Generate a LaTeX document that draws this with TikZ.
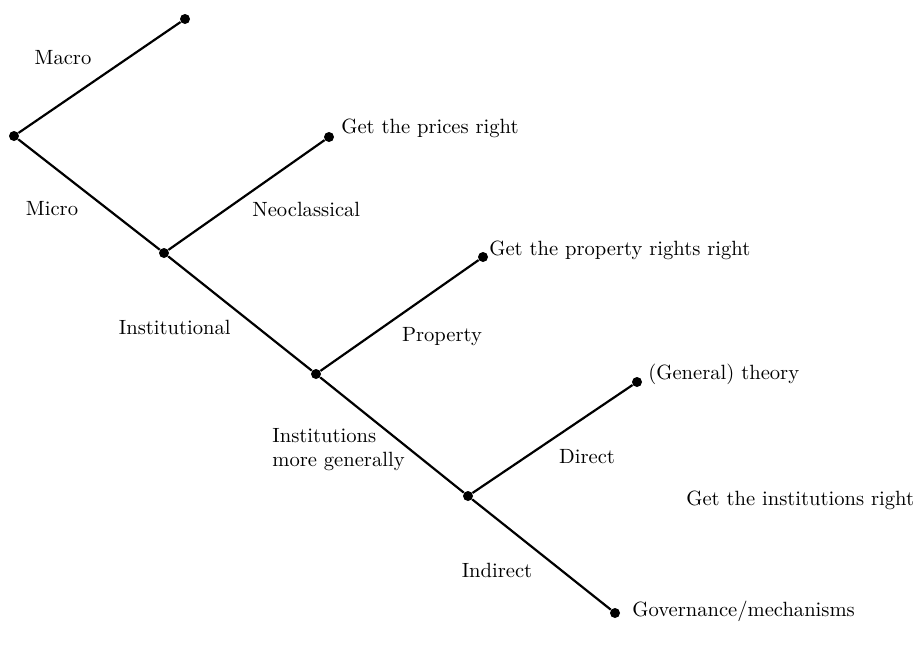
\documentclass[tikz,border=0pt]{standalone}
\usepackage{tikz}
\usetikzlibrary{positioning}

\begin{document}
\begin{tikzpicture}[x=0.5pt, y=-0.5pt,
    dot/.style={circle, fill=black, inner sep=0pt, minimum size=5pt},
    branch/.style={line width=1.1pt},
    lbl/.style={inner sep=0pt, font=\fontsize{10.3}{12}\selectfont}
  ]
  \useasboundingbox (0,0) rectangle (916,644);

  % Dots
  \node[dot] (root) at (14,136) {};
  \node[dot] (macro) at (185,19) {};
  \node[dot] (micro) at (164,253) {};
  \node[dot] (prices) at (329,137) {};
  \node[dot] (inst) at (316,374) {};
  \node[dot] (property) at (483,257) {};
  \node[dot] (general) at (468,496) {};
  \node[dot] (theory) at (637,382) {};
  \node[dot] (governance) at (615,613) {};

  % Branches
  \draw[branch] (root) -- (macro);
  \draw[branch] (root) -- (micro);
  \draw[branch] (micro) -- (prices);
  \draw[branch] (micro) -- (inst);
  \draw[branch] (inst) -- (property);
  \draw[branch] (inst) -- (general);
  \draw[branch] (general) -- (theory);
  \draw[branch] (general) -- (governance);

  % Branch labels
  \node[lbl] (macrolbl) at (63,58) {Macro};
  \node[lbl] (microlbl) at (52,209) {Micro};
  \node[lbl, anchor=west] (neolbl) at (252,209) {Neoclassical};
  \node[lbl, anchor=east] (instlbl) at (231,327) {Institutional};
  \node[lbl] (proplbl) at (442,337) {Property};
  \node[lbl, anchor=west, align=left] (genlbl) at (272,450) {Institutions\\more generally};
  \node[lbl] (directlbl) at (587,457) {Direct};
  \node[lbl] (indirectlbl) at (497,570) {Indirect};

  % End labels
  \node[lbl, anchor=west] (priceslbl) at (341,128) {Get the prices right};
  \node[lbl, anchor=west] (propertylbl) at (489,250) {Get the property rights right};
  \node[lbl, anchor=west] (theorylbl) at (648,374) {(General) theory};
  \node[lbl, anchor=west] (govlbl) at (632,611) {Governance/mechanisms};
  \node[lbl, anchor=west] (rightlbl) at (686,500) {Get the institutions right};
\end{tikzpicture}
\end{document}
